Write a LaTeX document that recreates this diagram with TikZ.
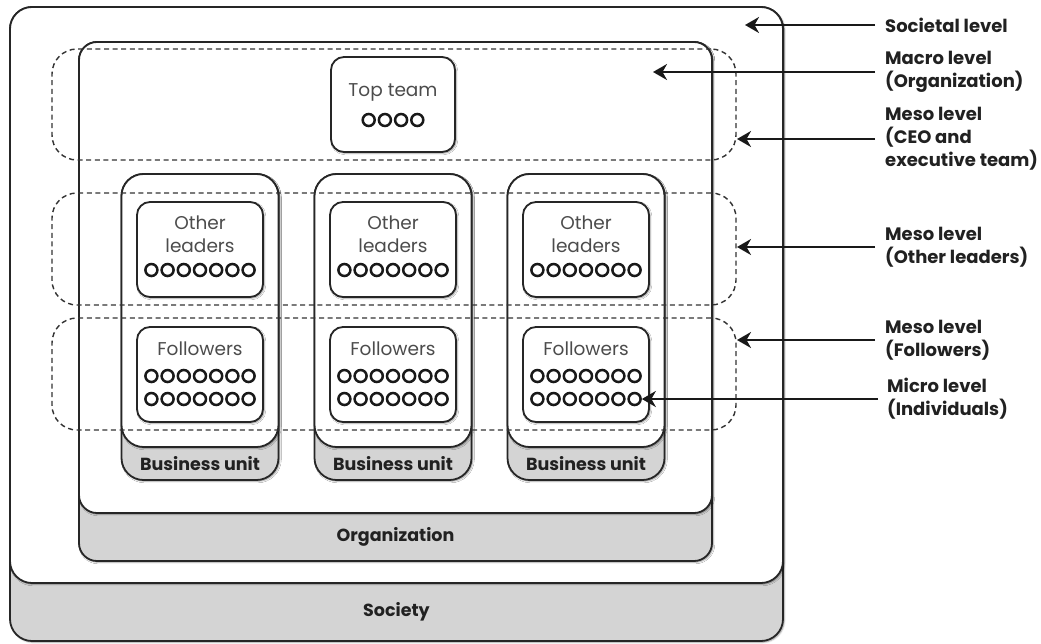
\documentclass[tikz,border=0pt]{standalone}
\usepackage{fontspec}
\setmainfont{Poppins}
\usetikzlibrary{arrows.meta,shadows.blur}

% box centred at (#3,#4), #5 wide and #6 high, in points
\newcommand\cbox[6][]{\node[#1, minimum width=#5pt, minimum height=#6pt] (#2) at (#3,#4) {};}

\begin{document}
\begin{tikzpicture}[x=1pt,y=-1pt,
  softshadow/.style={blur shadow={shadow xshift=1.2pt, shadow yshift=-1.2pt,
      shadow blur radius=1.6pt, shadow opacity=45}},
  frame/.style={draw=black!85, line width=1.8pt, rounded corners=#1,
      inner sep=0pt, outer sep=0pt, softshadow},
  frame/.default=20pt,
  grayframe/.style={frame=#1, fill=black!17},
  grayframe/.default=20pt,
  whiteframe/.style={frame=#1, fill=white},
  whiteframe/.default=20pt,
  band/.style={draw=black!80, line width=1.4pt, dash pattern=on 5pt off 3.6pt,
      rounded corners=25pt, inner sep=0pt, outer sep=0pt},
  dot/.style={circle, draw=black!90, line width=2.5pt, minimum size=12pt,
      inner sep=0pt},
  boxtext/.style={text=black!70, font=\fontsize{18.5}{23}\selectfont,
      inner sep=0pt, align=center},
  unittext/.style={text=black!87, font=\fontsize{17.5}{20}\selectfont\bfseries,
      inner sep=0pt},
  lvl/.style={anchor=west, align=left, inner sep=0pt, text=black!87,
      font=\fontsize{18}{23}\selectfont\bfseries},
  arrow/.style={draw=black!90, line width=2.2pt,
      -{Stealth[length=14pt, width=16pt, inset=4.5pt]}}
]
\useasboundingbox (0,0) rectangle (1041,643);

% society
\cbox[grayframe=22pt]{society}{396.5}{324}{773}{634}
\cbox[whiteframe=22pt]{societyin}{396.5}{295}{773}{576}
\node[unittext] (societytxt) at (396.5,612) {Society};

% organization
\cbox[grayframe=18pt]{org}{395.5}{301.5}{633}{519}
\cbox[whiteframe=18pt]{orgin}{395.5}{277.5}{633}{471}
\node[unittext] (orgtxt) at (395.5,537) {Organization};

% top team
\cbox[whiteframe=13pt]{top}{393}{104.5}{124}{95}
\node[boxtext] (toptxt) at (393,92) {Top team};
\foreach \k in {1,...,4}
  \node[dot] (t-\k) at ({393+(\k-2.5)*16.2},120) {};

% business units with their leaders and followers
\foreach \i/\cx in {1/200,2/393,3/586} {
  \cbox[grayframe=22pt]{bu\i}{\cx}{327}{157}{306}
  \cbox[whiteframe=22pt]{buin\i}{\cx}{310.5}{157}{273}
  \node[unittext] (butxt\i) at (\cx,464) {Business unit};
  \cbox[whiteframe=13pt]{lead\i}{\cx}{249.5}{126}{95}
  \node[boxtext] (leadtxt\i) at (\cx,234) {Other\\leaders};
  \cbox[whiteframe=13pt]{foll\i}{\cx}{374.5}{126}{95}
  \node[boxtext] (folltxt\i) at (\cx,349) {Followers};
  \foreach \k in {1,...,7} {
    \node[dot] (l\i-\k) at ({\cx+(\k-4)*16.2},270) {};
    \node[dot] (f\i-a\k) at ({\cx+(\k-4)*16.2},376) {};
    \node[dot] (f\i-b\k) at ({\cx+(\k-4)*16.2},399) {};
  }
}

% dashed bands for the three levels
\cbox[band]{bandtop}{394}{104.5}{684}{111}
\cbox[band]{bandlead}{394}{249}{684}{112}
\cbox[band]{bandfoll}{394}{374}{684}{112}

% level labels
\node[lvl] (lsoc) at (885,25) {Societal level};
\node[lvl] (lmac) at (885,72) {Macro level\\(Organization)};
\node[lvl] (lceo) at (885,139) {Meso level\\(CEO and\\executive team)};
\node[lvl] (llead) at (885,247) {Meso level\\(Other leaders)};
\node[lvl] (lfoll) at (885,340) {Meso level\\(Followers)};
\node[lvl] (lmic) at (887,399) {Micro level\\(Individuals)};

% arrow targets
\coordinate (tsoc) at (745,25);
\coordinate (tmac) at (653,72);
\coordinate (tceo) at (737,139);
\coordinate (tlead) at (737,247);
\coordinate (tfoll) at (737,340);

\draw[arrow] ([xshift=-10pt]lsoc.west) -- (tsoc);
\draw[arrow] ([xshift=-10pt]lmac.west) -- (tmac);
\draw[arrow] ([xshift=-10pt]lceo.west) -- (tceo);
\draw[arrow] ([xshift=-10pt]llead.west) -- (tlead);
\draw[arrow] ([xshift=-10pt]lfoll.west) -- (tfoll);
\draw[arrow] ([xshift=-9pt]lmic.west) -- (f3-b7.east);
\end{tikzpicture}
\end{document}
